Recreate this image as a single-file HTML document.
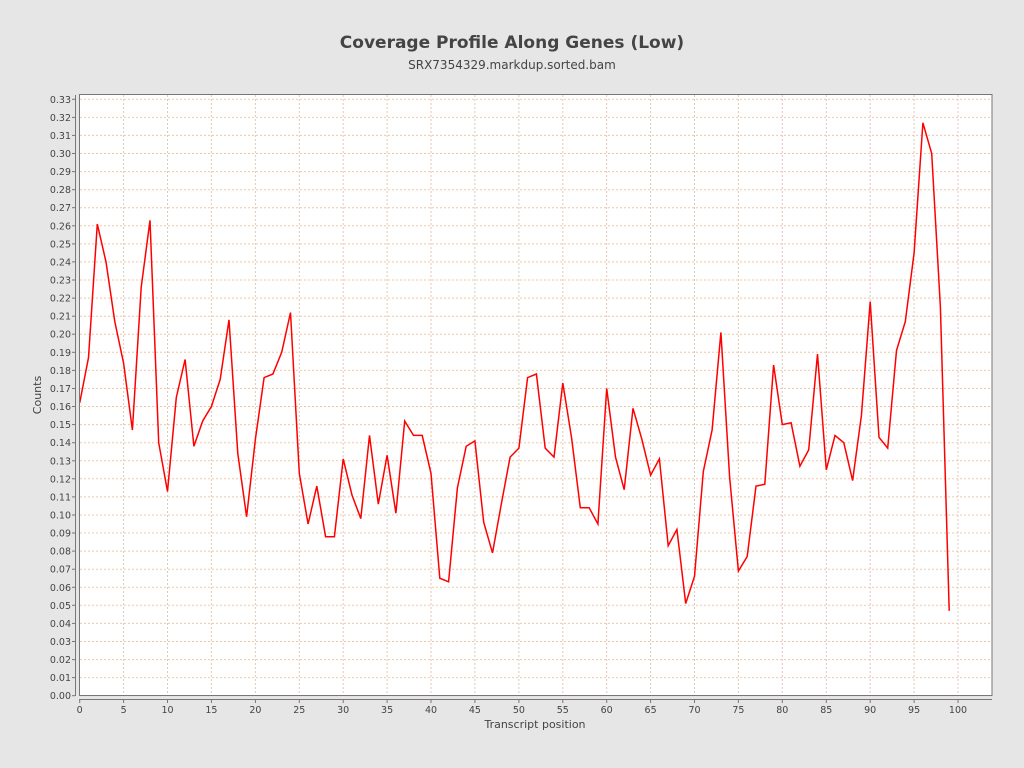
<!DOCTYPE html>
<html><head><meta charset="utf-8"><style>
html,body{margin:0;padding:0;background:#e6e6e6;}
svg{display:block;font-family:"DejaVu Sans","Liberation Sans",sans-serif;}
</style></head><body>
<svg id="s" width="1024" height="768" xmlns="http://www.w3.org/2000/svg">
<rect width="1024" height="768" fill="#e6e6e6"/>
<text x="512" y="48" text-anchor="middle" font-size="17" font-weight="bold" fill="#444">Coverage Profile Along Genes (Low)</text>
<text x="512" y="69" text-anchor="middle" font-size="12" fill="#444">SRX7354329.markdup.sorted.bam</text>
<rect x="79.5" y="94.5" width="912.5" height="601" fill="#fff"/>
<g id="g"></g>
<rect x="79.5" y="94.5" width="912.5" height="601" fill="none" stroke="#777" stroke-width="1"/>
<line x1="79" y1="699.5" x2="992" y2="699.5" stroke="#777"/>
<line x1="75.5" y1="95" x2="75.5" y2="696" stroke="#777"/>
<text x="41" y="395" text-anchor="middle" font-size="11" fill="#444" transform="rotate(-90 41 395)">Counts</text>
<text x="535" y="728" text-anchor="middle" font-size="11" fill="#444">Transcript position</text>
</svg>
<script>
var d=[0.162,0.187,0.261,0.240,0.207,0.184,0.147,0.226,0.263,0.140,0.113,0.165,0.186,0.138,0.152,0.160,0.175,0.208,0.134,0.099,0.142,0.176,0.178,0.190,0.212,0.123,0.095,0.116,0.088,0.088,0.131,0.111,0.098,0.144,0.106,0.133,0.101,0.152,0.144,0.144,0.123,0.065,0.063,0.115,0.138,0.141,0.096,0.079,0.106,0.132,0.137,0.176,0.178,0.137,0.132,0.173,0.143,0.104,0.104,0.095,0.170,0.132,0.114,0.159,0.142,0.122,0.131,0.083,0.092,0.051,0.066,0.124,0.147,0.201,0.121,0.069,0.077,0.116,0.117,0.183,0.150,0.151,0.127,0.136,0.189,0.125,0.144,0.140,0.119,0.155,0.218,0.143,0.137,0.191,0.207,0.245,0.317,0.300,0.215,0.047];
function X(i){return 79.7+i*8.783;}function Y(v){return 695.7-v*1807.3;}
var h='';
for(var k=0;k<=33;k++){var y=Y(k/100).toFixed(1);
h+='<line x1="80" x2="991" y1="'+y+'" y2="'+y+'" stroke="#f0c8a8" stroke-dasharray="2,2" stroke-width="1"/>';
h+='<line x1="72" x2="75" y1="'+y+'" y2="'+y+'" stroke="#777"/>';
h+='<text x="71" y="'+(+y+3.5)+'" text-anchor="end" font-size="9.5" fill="#444">'+(k/100).toFixed(2)+'</text>';}
for(var i=0;i<=100;i+=5){var x=X(i).toFixed(1);
if(i>0)h+='<line y1="95" y2="695" x1="'+x+'" x2="'+x+'" stroke="#e0c8b8" stroke-dasharray="2,2" stroke-width="1"/>';
h+='<line y1="700" y2="703" x1="'+x+'" x2="'+x+'" stroke="#777"/>';
h+='<text x="'+x+'" y="713" text-anchor="middle" font-size="9.5" fill="#444">'+i+'</text>';}
var p=d.map(function(v,i){return X(i).toFixed(1)+','+Y(v).toFixed(1)}).join(' ');
h+='<polyline points="'+p+'" fill="none" stroke="#ff0000" stroke-width="1.5"/>';
document.getElementById('g').innerHTML=h;
</script>
</body></html>
